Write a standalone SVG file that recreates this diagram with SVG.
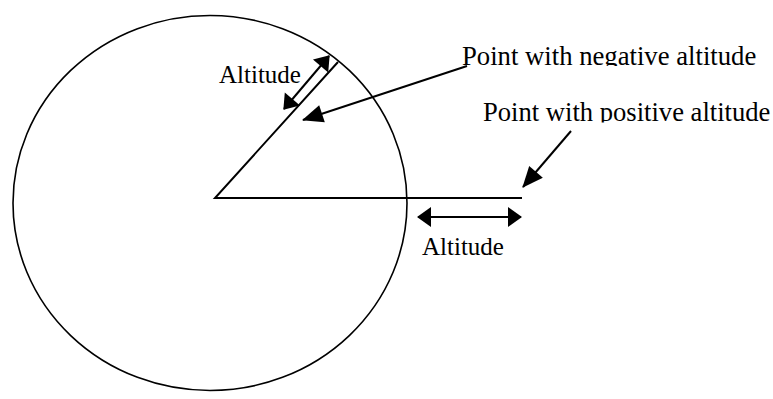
<svg xmlns="http://www.w3.org/2000/svg" width="773" height="399" viewBox="0 0 773 399">
<style>
.ln{stroke:#000;stroke-width:2;fill:none}
.lbl{font-family:"Liberation Serif","Times New Roman",serif;fill:#000}
</style>
<defs>
<marker id="hs" markerUnits="userSpaceOnUse" markerWidth="14" markerHeight="20" refX="13" refY="10" orient="auto-start-reverse" overflow="visible">
<path d="M0,0 L14,10 L0,20 z" fill="#000"/>
</marker>
<marker id="hl" markerUnits="userSpaceOnUse" markerWidth="21" markerHeight="18" refX="20" refY="9" orient="auto" overflow="visible">
<path d="M0,0 L21,9 L0,18 z" fill="#000"/>
</marker>
<clipPath id="c1"><rect x="440" y="30" width="333" height="36"/></clipPath>
<clipPath id="c2"><rect x="470" y="90" width="303" height="32.5"/></clipPath>
</defs>
<g id="earth">
<ellipse cx="210" cy="203" rx="197" ry="187.5" style="stroke:#000;stroke-width:1.6;fill:none"/>
</g>
<g id="radii">
<polyline class="ln" points="338,62 215,198 522,198"/>
</g>
<g id="labels">
<text class="lbl" x="219" y="83" font-size="25">Altitude</text>
<text class="lbl" x="422" y="255" font-size="25">Altitude</text>
<text class="lbl" x="462" y="65" font-size="26.7" clip-path="url(#c1)">Point with negative altitude</text>
<text class="lbl" x="483" y="121" font-size="26.6" clip-path="url(#c2)">Point with positive altitude</text>
</g>
<g id="connectors">
<line class="ln" x1="284" y1="109" x2="329" y2="56" marker-start="url(#hs)" marker-end="url(#hs)"/>
<line class="ln" x1="418" y1="217" x2="521" y2="217" marker-start="url(#hs)" marker-end="url(#hs)"/>
<line class="ln" x1="467" y1="66" x2="303" y2="120" marker-end="url(#hl)"/>
<line class="ln" x1="571" y1="131" x2="523" y2="187" marker-end="url(#hl)"/>
</g>
</svg>
